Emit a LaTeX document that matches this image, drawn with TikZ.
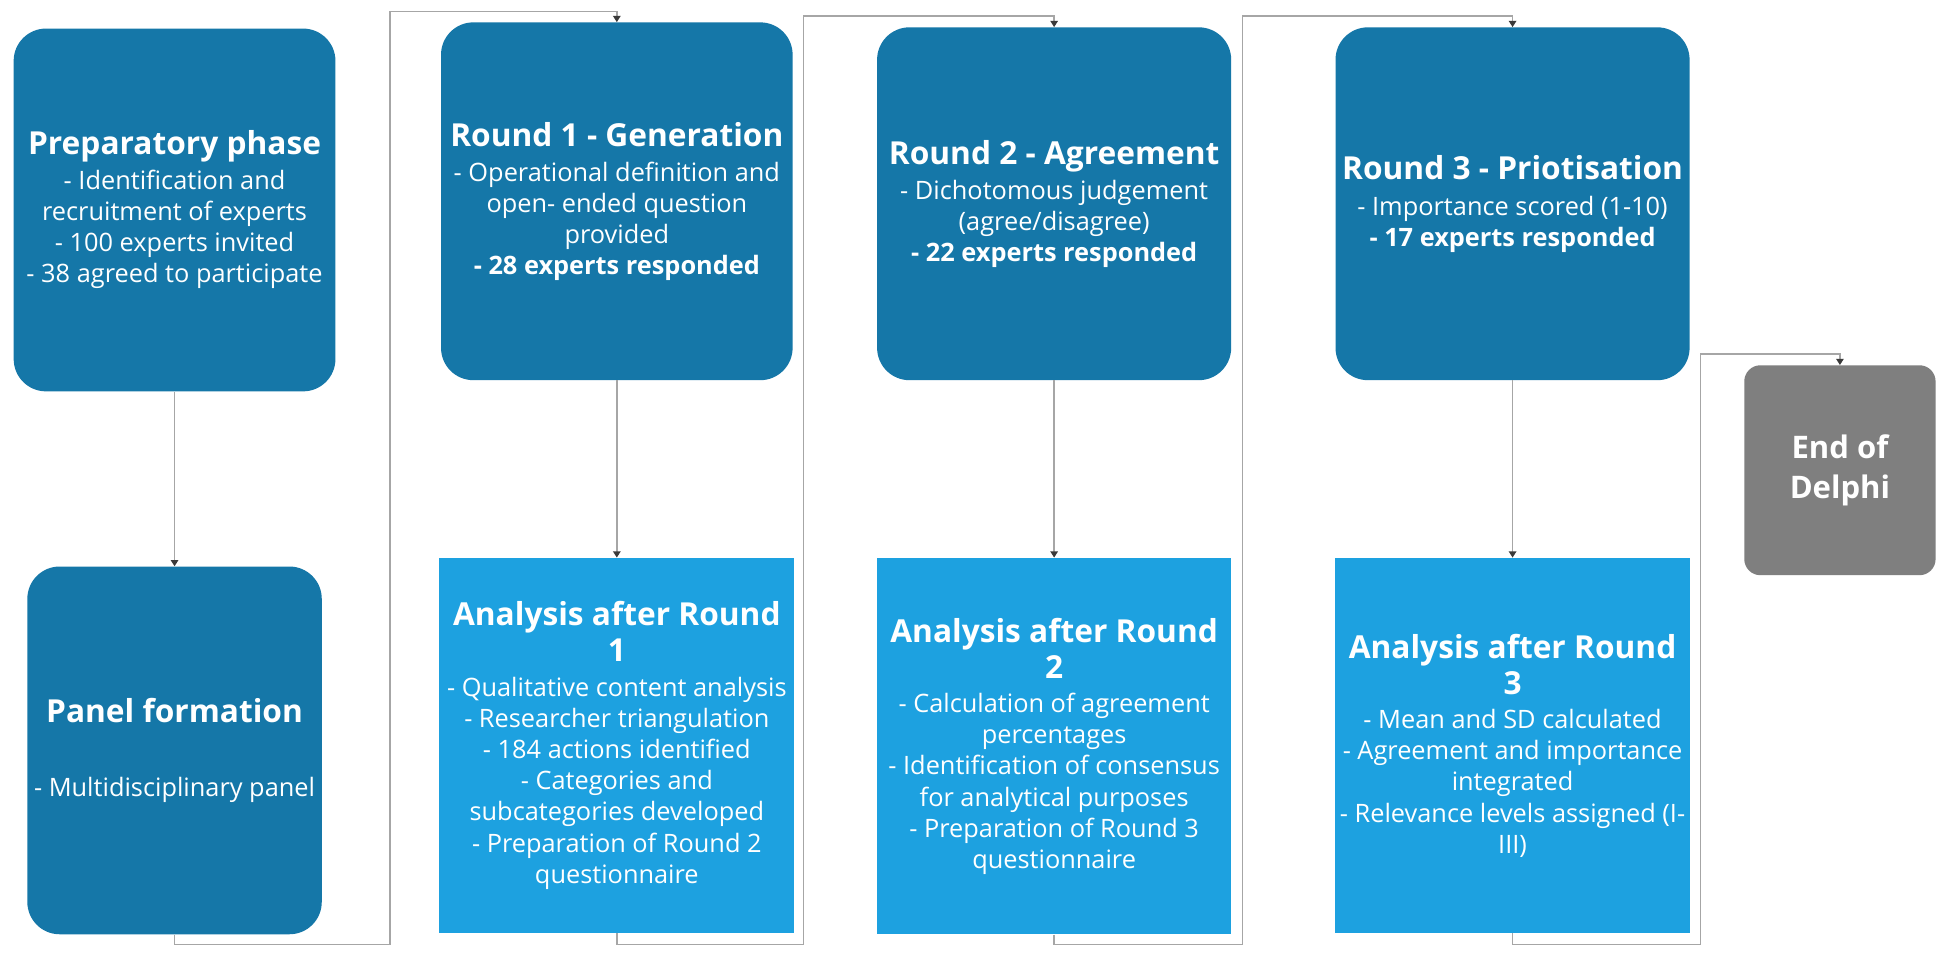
\documentclass[tikz,border=0pt]{standalone}
\usepackage{fontspec}
\setmainfont{Open Sans}
\usetikzlibrary{arrows.meta}
\definecolor{dblue}{HTML}{1577A8}
\definecolor{lblue}{HTML}{1DA1E0}
\definecolor{endgray}{HTML}{7F7F7F}
\definecolor{conn}{HTML}{A6A6A6}
\definecolor{tipc}{HTML}{3A3A3A}
\newcommand{\ttl}[1]{{\fontsize{25.5}{29}\selectfont\bfseries #1}}
\begin{document}
\begin{tikzpicture}[x=1pt,y=-1pt,
  boxbase/.style={text=white, align=center, inner sep=0pt, font=\fontsize{20.4}{25}\selectfont},
  darkbox/.style={boxbase, fill=dblue, rounded corners=26pt},
  lightbox/.style={boxbase, fill=lblue},
  endbox/.style={boxbase, fill=endgray, rounded corners=13pt, font=\fontsize{25}{32}\selectfont\bfseries},
  link/.style={draw=conn, line width=1.1pt, -{Triangle[length=5pt,width=6pt,color=tipc]}}
]
\fill[white] (0,0) rectangle (1568,772);
\useasboundingbox (0,0) rectangle (1568,772);

\node[darkbox, minimum width=259pt, minimum height=292pt] (prep) at (140.5,169)
  {\ttl{Preparatory phase}\\[3pt] - Identification and\\ recruitment of experts\\ - 100 experts invited\\ - 38 agreed to participate};
\node[darkbox, minimum width=237pt, minimum height=296pt] (panel) at (140.5,604)
  {\ttl{Panel formation}\\[35pt] - Multidisciplinary panel};
\node[darkbox, minimum width=283pt, minimum height=288pt] (r1) at (496.5,162)
  {\ttl{Round 1 - Generation}\\[3pt] - Operational definition and\\ open- ended question\\ provided\\ \textbf{- 28 experts responded}};
\node[lightbox, minimum width=286pt, minimum height=302pt] (a1) at (496.5,600)
  {\ttl{Analysis after Round}\\[4pt] \ttl{1}\\[3pt] - Qualitative content analysis\\ - Researcher triangulation\\ - 184 actions identified\\ - Categories and\\ subcategories developed\\ - Preparation of Round 2\\ questionnaire};
\node[darkbox, minimum width=285pt, minimum height=284pt] (r2) at (848.5,164)
  {\ttl{Round 2 - Agreement}\\[3pt] - Dichotomous judgement\\ (agree/disagree)\\ \textbf{- 22 experts responded}};
\node[lightbox, minimum width=285pt, minimum height=303pt] (a2) at (848.5,600.5)
  {\ttl{Analysis after Round}\\[4pt] \ttl{2}\\[3pt] - Calculation of agreement\\ percentages\\ - Identification of consensus\\ for analytical purposes\\ - Preparation of Round 3\\ questionnaire};
\node[darkbox, minimum width=285pt, minimum height=284pt] (r3) at (1217.5,164)
  {\ttl{Round 3 - Priotisation}\\[4pt] - Importance scored (1-10)\\ \textbf{- 17 experts responded}};
\node[lightbox, minimum width=286pt, minimum height=302pt] (a3) at (1217.5,600)
  {\ttl{Analysis after Round}\\[4pt] \ttl{3}\\[3pt] - Mean and SD calculated\\ - Agreement and importance\\ integrated\\ - Relevance levels assigned (I-\\ III)};
\node[endbox, minimum width=154pt, minimum height=169pt] (end) at (1481,378.5)
  {End of\\ Delphi};

\coordinate (c1a) at (314,760); \coordinate (c1b) at (314,9);
\coordinate (c2a) at (647,760); \coordinate (c2b) at (647,13);
\coordinate (c3a) at (1000,760); \coordinate (c3b) at (1000,13);
\coordinate (c4a) at (1369,760); \coordinate (c4b) at (1369,285);

\draw[link] (prep.south) -- (panel.north);
\draw[link] (panel.south) |- (c1a) -- (c1b) -| (r1.north);
\draw[link] (r1.south) -- (a1.north);
\draw[link] (a1.south) |- (c2a) -- (c2b) -| (r2.north);
\draw[link] (r2.south) -- (a2.north);
\draw[link] (a2.south) |- (c3a) -- (c3b) -| (r3.north);
\draw[link] (r3.south) -- (a3.north);
\draw[link] (a3.south) |- (c4a) -- (c4b) -| (end.north);
\end{tikzpicture}
\end{document}
